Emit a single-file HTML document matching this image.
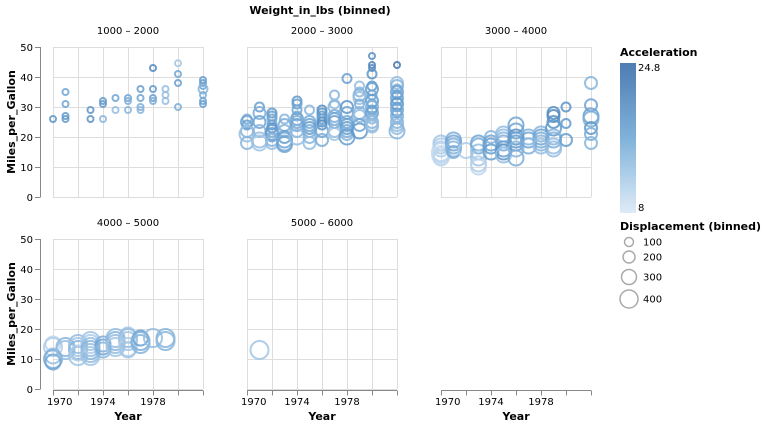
<!DOCTYPE html>
<html><head><meta charset="utf-8"><style>
html,body{margin:0;padding:0;background:#fff;}
svg{display:block;font-family:"DejaVu Sans","Liberation Sans",sans-serif;}
</style></head><body>
<svg id="chart" width="767" height="427" viewBox="0 0 767 427" xmlns="http://www.w3.org/2000/svg"></svg>
<script>
// Data: [year, mpg, displacementBin, acceleration]
const facetLabels = ["1000 – 2000","2000 – 3000","3000 – 4000","4000 – 5000","5000 – 6000"];
const facet1 = [[1970,26,0,19],[1971,35,0,16],[1971,31,0,16],[1971,27,0,18],[1971,26,0,18],
 [1973,29,0,19],[1973,26,0,19],[1974,32,0,18],[1974,31,0,18],[1974,26,0,14],[1975,33,0,16],[1975,29,0,13],
 [1976,33,0,16],[1976,32,0,15],[1976,29,0,14],[1977,36,0,17],[1977,33,0,16],[1977,30,0,15],[1977,29,0,14],
 [1978,43,0,21],[1978,36,0,18],[1978,33,0,17],[1978,32,0,15],[1979,36,0,13],[1979,34,0,13],[1979,32,0,13],
 [1980,44.6,0,12],[1980,41,0,16],[1980,38,0,17],[1980,30,0,15],
 [1982,39,0,18],[1982,38,0,17],[1982,37,0,16],[1982,36,100,14],[1982,34,0,15],[1982,32,0,16],[1982,31,0,17]];
const facet2 = [[1970,26,100,15],[1970,25,200,16],[1970,24,100,17],[1970,22,200,14],[1970,21,300,13],[1970,18,200,14],
 [1971,30,100,17],[1971,28,200,15],[1971,25,200,16],[1971,22,200,14],[1971,19,300,13],[1971,18,300,12],
 [1972,28,100,18],[1972,27,100,17],[1972,26,100,16],[1972,24,100,17],[1972,23,100,19],[1972,22,200,18],[1972,21,200,17],[1972,20,100,16],[1972,19,200,14],[1972,18,200,13],
 [1973,26,100,14],[1973,24,200,15],[1973,22,200,14],[1973,20,200,17],[1973,19,300,16],[1973,18,300,15],[1973,17.5,300,16],
 [1974,32,100,18],[1974,31,100,17],[1974,29,100,16],[1974,27,100,15],[1974,26,200,16],[1974,25,200,15],[1974,24,200,16],[1974,22,200,14],[1974,20,300,13],
 [1975,29,100,14],[1975,25,200,15],[1975,24,200,16],[1975,23,200,17],[1975,22,200,15],[1975,20,200,14],[1975,18,200,13],
 [1976,29,100,20],[1976,28,100,19],[1976,27,100,18],[1976,26,100,17],[1976,25,100,19],[1976,24,100,20],[1976,22,200,16],[1976,19,200,15],
 [1977,34,100,14],[1977,31,100,13],[1977,30,200,14],[1977,27,200,15],[1977,26,200,16],[1977,25,200,17],[1977,22,200,13],[1977,21,200,12],
 [1978,39.5,100,17],[1978,30,200,18],[1978,28,200,16],[1978,25,200,15],[1978,24,200,16],[1978,23,200,17],[1978,22,200,15],[1978,21,200,14],[1978,20,300,17],
 [1979,37,100,13],[1979,35,100,14],[1979,34,200,14],[1979,33,200,13],[1979,31,100,15],[1979,28,200,14],[1979,27,200,13],[1979,24,200,16],[1979,22,300,18],
 [1980,47,0,20],[1980,44,0,22],[1980,43,0,21],[1980,41,100,19],[1980,37,100,18],[1980,36,200,17],[1980,34,100,16],[1980,32,200,17],[1980,31,100,16],
 [1980,30,200,15],[1980,29,100,17],[1980,28,200,16],[1980,27,100,15],[1980,26,100,14],[1980,25,200,14],[1980,24,200,13],[1980,23.5,200,13],
 [1982,44,0,24],[1982,38,200,13],[1982,37,200,14],[1982,36,100,15],[1982,35,200,16],[1982,34,100,17],[1982,33,200,16],[1982,32,100,15],[1982,31,200,18],
 [1982,30,100,17],[1982,29,200,16],[1982,28,100,18],[1982,27,200,15],[1982,26,100,14],[1982,25,200,14],[1982,24,200,13],[1982,23,200,13],[1982,22,300,14]];
const facet3 = [[1970,18,300,12],[1970,17,300,11],[1970,16,300,11],[1970,15,400,10],[1970,14,300,10],[1970,14,400,9],[1970,13,300,10],
 [1971,19,300,15],[1971,18,300,16],[1971,17,300,15],[1971,16,300,14],[1971,15,200,15],
 [1972,15.5,300,11],
 [1973,18,300,16],[1973,17,300,15],[1973,15,300,13],[1973,13,300,12],[1973,11,300,11],[1973,10,300,10],
 [1974,20,200,14],[1974,18,300,16],[1974,17,300,17],[1974,15,300,17],
 [1975,21,300,13],[1975,20,300,13],[1975,19,300,14],[1975,18,300,15],[1975,16,300,17],[1975,15,300,19],[1975,14,300,13],
 [1976,24,300,16],[1976,22,300,16],[1976,20,300,19],[1976,19,300,18],[1976,18,300,17],[1976,16,300,14],[1976,13,300,15],
 [1977,20,300,14],[1977,19,300,16],[1977,17,300,15],
 [1978,21,300,14],[1978,20,300,16],[1978,19,300,15],[1978,18,300,14],[1978,17,300,13],
 [1979,28,200,20],[1979,27,200,21],[1979,25,200,19],[1979,23,300,18],[1979,20,300,14],[1979,19,300,15],[1979,17,300,13],[1979,16,300,13],
 [1980,30,100,19],[1980,24.5,100,18],[1980,19,200,17],
 [1982,38,200,14],[1982,30.6,200,16],[1982,27,300,17],[1982,26,300,15],[1982,23,200,18],[1982,21,200,15],[1982,18,200,14]];
const facet4 = [[1970,15,300,10],[1970,14,400,11],[1970,11,300,13],[1970,10,400,15],[1970,9,300,16],
 [1971,14,400,14],[1971,13,400,13],
 [1972,15,400,13],[1972,14,400,12],[1972,13,400,14],[1972,12,300,11],[1972,11,400,12],
 [1973,16,400,12],[1973,15,400,11],[1973,14,400,13],[1973,13,400,14],[1973,12,400,13],[1973,11,400,12],
 [1974,15,300,15],[1974,14,300,16],[1974,13,300,14],
 [1975,17,400,13],[1975,16,400,14],[1975,15,400,13],[1975,14,400,12],
 [1976,18,300,12],[1976,17,400,13],[1976,16,400,12],[1976,14,400,11],[1976,13,300,12],
 [1977,17,300,17],[1977,16,400,15],[1977,15,400,14],
 [1978,17,400,13],
 [1979,17,400,14],[1979,16,400,14]];
const facet5 = [[1971,13,400,12]];
const facetData = [facet1,facet2,facet3,facet4,facet5];
const yTicks = [0,10,20,30,40,50];
const xTickYears = [1970,1972,1974,1976,1978,1980,1982];
const xLabelYears = [1970,1974,1978];
const sizeLegend = [100,200,300,400];
const accelDomain = [8,24.8];

const NS="http://www.w3.org/2000/svg";
const svg=document.getElementById('chart');
function mk(tag,attrs,parent){const e=document.createElementNS(NS,tag);for(const k in attrs)e.setAttribute(k,attrs[k]);(parent||svg).appendChild(e);return e;}
function txt(s,attrs,parent){const e=mk('text',attrs,parent);e.textContent=s;return e;}
const W=150,H=150;
const cells=[[53,47],[247,47],[441,47],[53,239],[247,239]];
const xScale=(y,x0)=>x0+(y-1970)/12*W;
const yScale=(v,y0)=>y0+H-(v/50)*H;
const rScale=d=>3+d*0.015;
function lerp(a,b,t){return a+(b-a)*t;}
const stops=[[0,[214,229,244]],[0.5,[105,162,210]],[1,[64,115,172]]];
const legendStops=[[0,[222,235,247]],[0.5,[127,178,218]],[1,[78,125,178]]];
function color(a){let t=(a-accelDomain[0])/(accelDomain[1]-accelDomain[0]);t=Math.max(0,Math.min(1,t));
 let i=t<0.5?0:1;const s0=stops[i],s1=stops[i+1];const u=(t-s0[0])/(s1[0]-s0[0]);
 return 'rgb('+s0[1].map((c,k)=>Math.round(lerp(c,s1[1][k],u))).join(',')+')';}

const title=txt('Weight_in_lbs (binned)',{x:320,y:14,'text-anchor':'middle','font-size':11,'font-weight':'bold',fill:'#000'});



cells.forEach((c,fi)=>{
 const [x0,y0]=c;
 const g=mk('g',{});
 
 
 const ft=txt(facetLabels[fi],{x:x0+W/2,y:y0-13,'text-anchor':'middle','font-size':10,fill:'#000'},g);
 
 
 yTicks.forEach(v=>{const yy=yScale(v,y0)+0.5;const l=mk('line',{x1:x0,x2:x0+W,y1:yy,y2:yy,stroke:'#ddd','stroke-width':1},g);
  });
 xTickYears.forEach(v=>{const xx=xScale(v,x0)+0.5;const l=mk('line',{x1:xx,x2:xx,y1:y0,y2:y0+H,stroke:'#ddd','stroke-width':1},g);
  });
 if(fi===0||fi===3){
  const ax=mk('g',{},g);
  mk('line',{x1:40.5,x2:40.5,y1:y0,y2:y0+H,stroke:'#888'},ax);
  yTicks.forEach(v=>{const yy=yScale(v,y0)+0.5;mk('line',{x1:35,x2:40.5,y1:yy,y2:yy,stroke:'#888'},ax);
   const t=txt(String(v),{x:33,y:yy+3.5,'text-anchor':'end','font-size':10,fill:'#000'},ax);
   });
  const yt=txt('Miles_per_Gallon',{x:0,y:0,transform:'translate(15,'+(y0+H/2)+') rotate(-90)','text-anchor':'middle','font-size':11,'font-weight':'bold',fill:'#000'},ax);
  
 }
 const pts=mk('g',{},g);
 facetData[fi].forEach(p=>{const ci=mk('circle',{cx:xScale(p[0],x0),cy:yScale(p[1],y0),r:rScale(p[2]),fill:'none',stroke:color(p[3]),'stroke-width':2,opacity:0.85},pts);
  });
});
[[53,389],[247,389],[441,389]].forEach(a=>{
 const [x0,yb]=a;
 const ax=mk('g',{});
 mk('line',{x1:x0,x2:x0+W,y1:yb+1.5,y2:yb+1.5,stroke:'#888'},ax);
 xTickYears.forEach(v=>{const xx=xScale(v,x0)+0.5;mk('line',{x1:xx,x2:xx,y1:yb+1.5,y2:yb+6.5,stroke:'#888'},ax);});
 xLabelYears.forEach(v=>{const t=txt(String(v),{x:xScale(v,x0),y:yb+16,'text-anchor':v===1970?'start':'middle','font-size':10,fill:'#000'},ax);
  if(v===1970)t.setAttribute('x',xScale(v,x0)-6);
  });
 const xt=txt('Year',{x:x0+W/2,y:yb+31,'text-anchor':'middle','font-size':11,'font-weight':'bold',fill:'#000'},ax);
 
});
const lg=mk('g',{});
const defs=mk('defs',{});const grad=mk('linearGradient',{id:'acc',x1:0,y1:1,x2:0,y2:0},defs);
legendStops.forEach(s=>mk('stop',{offset:s[0],'stop-color':'rgb('+s[1].join(',')+')'},grad));
const lt=txt('Acceleration',{x:620,y:56,'font-size':11,'font-weight':'bold',fill:'#000'},lg);

const gr=mk('rect',{x:620,y:63,width:16,height:150,fill:'url(#acc)'},lg);

const l1=txt(String(accelDomain[1]),{x:638,y:71,'font-size':10,fill:'#000'},lg);

const l2=txt(String(accelDomain[0]),{x:638,y:211,'font-size':10,fill:'#000'},lg);

const sg=mk('g',{});
const st=txt('Displacement (binned)',{x:620,y:230,'font-size':11,'font-weight':'bold',fill:'#000'},sg);

const sy=[242,257,277,299];
sizeLegend.forEach((v,i)=>{
 const c=mk('circle',{cx:629,cy:sy[i],r:rScale(v),fill:'none',stroke:'#aaa','stroke-width':1.5},sg);
 
 const t=txt(String(v),{x:643,y:sy[i]+3.5,'font-size':10,fill:'#000'},sg);
 
});
</script>
</body></html>
